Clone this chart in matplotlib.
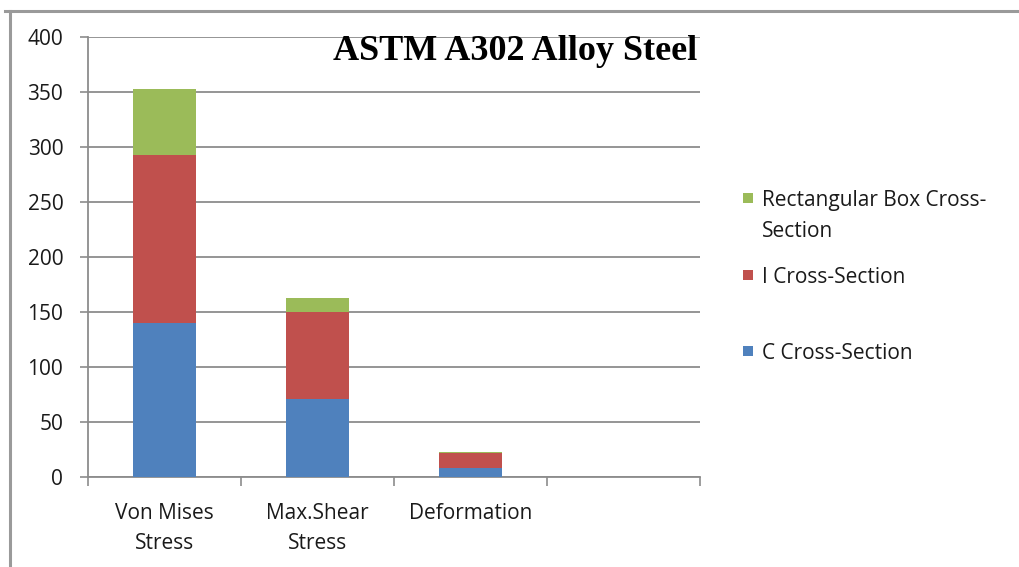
import matplotlib
matplotlib.use("Agg")
import matplotlib.pyplot as plt
from matplotlib.patches import Rectangle
from matplotlib.lines import Line2D
import numpy as np

categories = ["Von Mises\nStress", "Max.Shear\nStress", "Deformation", ""]
c_section = [140, 71, 8.5, 0]
i_section = [152.7, 79.3, 13.3, 0]
rect_box = [60, 12.4, 1.2, 0]
series_names = ["C Cross-Section", "I Cross-Section", "Rectangular Box Cross-\nSection"]
colors = ["#4F81BD", "#C0504D", "#9BBB59"]
yticks = [0, 50, 100, 150, 200, 250, 300, 350, 400]

plt.rcParams['font.family'] = ['Open Sans', 'DejaVu Sans']

W, H = 1019, 567
fig = plt.figure(figsize=(W/100, H/100), dpi=100)
ax = fig.add_axes([88/W, 1-477/H, 612/W, 440/H])

x = np.arange(len(categories))
c = np.array(c_section); i = np.array(i_section); r = np.array(rect_box)
ax.bar(x, c, width=0.41, color=colors[0], zorder=3)
ax.bar(x, i, width=0.41, bottom=c, color=colors[1], zorder=3)
ax.bar(x, r, width=0.41, bottom=c + i, color=colors[2], zorder=3)

ax.set_xlim(-0.5, 3.5)
ax.set_ylim(0, 400)
ax.set_yticks(yticks)
ax.set_yticklabels([str(v) for v in yticks], fontsize=15, color="#1a1a1a")
ax.yaxis.grid(True, color="#8c8c8c", linewidth=1.3, zorder=0)
ax.tick_params(axis='y', length=5.8, width=1.2, color="#8c8c8c", pad=12)

ax.set_xticks(x)
ax.set_xticklabels(categories, fontsize=15, color="#1a1a1a", linespacing=1.55)
ax.set_xticks(np.arange(-0.5, 4.0, 1.0), minor=True)
ax.tick_params(axis='x', which='major', length=0, pad=19)
ax.tick_params(axis='x', which='minor', length=6.5, width=1.2, color="#8c8c8c")

for s in ["top", "right"]:
    ax.spines[s].set_visible(False)
for s in ["left", "bottom"]:
    ax.spines[s].set_color("#8c8c8c")
    ax.spines[s].set_linewidth(1.3)

ax.text(697/W, 1-51/H, "ASTM A302 Alloy Steel", transform=fig.transFigure,
        ha="right", va="center", fontsize=26, fontweight="bold",
        family=["Liberation Serif", "DejaVu Serif"], color="black")

# legend (Rectangular Box on top, then I, then C), squares aligned with first text line
legend_order = [2, 1, 0]
legend_y = [198, 275, 351]
for k, yy in zip(legend_order, legend_y):
    fig.add_artist(Rectangle((743/W, 1-(yy+5)/H), 10/W, 10/H, transform=fig.transFigure,
                             facecolor=colors[k], edgecolor="none"))
    fig.text(762/W, 1-(yy-8)/H, series_names[k], ha="left", va="top", fontsize=15,
             color="#1a1a1a", linespacing=1.6)

# outer chart frame (top and left edges visible)
fig.add_artist(Line2D([5/W, 1], [1-11/H, 1-11/H], transform=fig.transFigure,
                      color="#9a9a9a", linewidth=2.2))
fig.add_artist(Line2D([10/W, 10/W], [0, 1-11/H], transform=fig.transFigure,
                      color="#9a9a9a", linewidth=2.2))

fig.savefig("out.png", dpi=100)
